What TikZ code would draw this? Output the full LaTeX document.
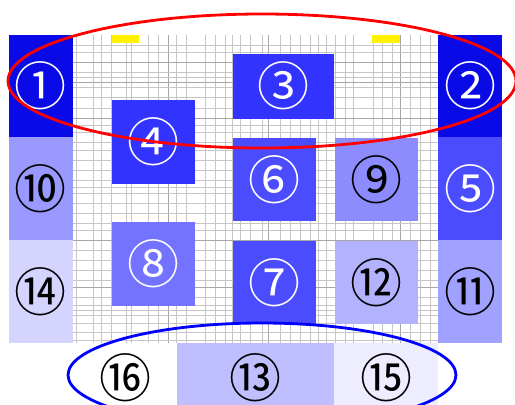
\documentclass[tikz,border=0pt]{standalone}
\usepackage{fontspec}
\newfontfamily\cjk{Noto Sans CJK JP}
\begin{document}
\begin{tikzpicture}[x=1pt,y=-1pt,
  cell/.style={rectangle,inner sep=0pt,draw=none,font=\cjk\fontsize{52}{52}\selectfont},
  dark/.style={cell,text=white},
  light/.style={cell,text=black},
  gridthin/.style={gray!45,line width=0.4pt},
  gridthick/.style={gray!70,line width=0.6pt}]
\useasboundingbox (0,0) rectangle (515,405);
\fill[white] (0,0) rectangle (515,405);
% grid
\foreach \x in {76,93,101,111,126,131,148,158,176,186,205,215,225,232,240,250,262,280,290,300,310,318,326,335,345,353,373,382,392,410,420,430}
  \draw[gridthin] (\x,35) -- (\x,343);
\foreach \x in {168,268,400}
  \draw[gridthick] (\x,35) -- (\x,343);
\foreach \y in {45,52,72,77,87,97,108,125,132,142,150,160,170,180,187,193,203,213,223,230,250,260,270,280,297,305,310,315,323,332,340}
  \draw[gridthin] (73,\y) -- (438,\y);
\foreach \y in {62,82,118,240,287}
  \draw[gridthick] (73,\y) -- (438,\y);
% yellow marks
\fill[yellow] (112,35) rectangle (139,43);
\fill[yellow] (372,35) rectangle (400,43);
% colours
\definecolor{c1}{RGB}{10,10,230}
% boxes
\node[dark,fill=c1,minimum width=64pt,minimum height=102pt] (n1) at (41,86) {①};
\node[dark,fill=c1,minimum width=64pt,minimum height=102pt] (n2) at (470,86) {②};
\node[dark,fill=blue!80,minimum width=101pt,minimum height=65pt] (n3) at (283.5,86) {③};
\node[dark,fill=blue!80,minimum width=83pt,minimum height=84pt] (n4) at (153.5,142) {④};
\node[dark,fill=blue!70,minimum width=64pt,minimum height=103pt] (n5) at (470,188.5) {⑤};
\node[dark,fill=blue!70,minimum width=83pt,minimum height=83pt] (n6) at (274.5,179.5) {⑥};
\node[dark,fill=blue!70,minimum width=83pt,minimum height=83pt] (n7) at (274.5,282.5) {⑦};
\node[dark,fill=blue!55,minimum width=83pt,minimum height=84pt] (n8) at (153.5,264) {⑧};
\node[light,fill=blue!45,minimum width=83pt,minimum height=83pt] (n9) at (376.5,179.5) {⑨};
\node[light,fill=blue!40,minimum width=64pt,minimum height=103pt] (n10) at (41,188.5) {⑩};
\node[light,fill=blue!37,minimum width=64pt,minimum height=103pt] (n11) at (470,291.5) {⑪};
\node[light,fill=blue!30,minimum width=83pt,minimum height=83pt] (n12) at (376.5,282.5) {⑫};
\node[light,fill=blue!25,minimum width=157pt,minimum height=70pt] (n13) at (255.5,378) {⑬};
\node[light,fill=blue!17,minimum width=64pt,minimum height=103pt] (n14) at (41,291.5) {⑭};
\node[light,fill=blue!7,minimum width=104pt,minimum height=70pt] (n15) at (386,378) {⑮};
\node[light,minimum width=104pt,minimum height=70pt] (n16) at (125,378) {⑯};
% ellipses
\draw[red,line width=2.8pt] (262,81) ellipse [x radius=254,y radius=67];
\draw[blue,line width=2.8pt] (262,375) ellipse [x radius=194,y radius=52];
\end{tikzpicture}
\end{document}
